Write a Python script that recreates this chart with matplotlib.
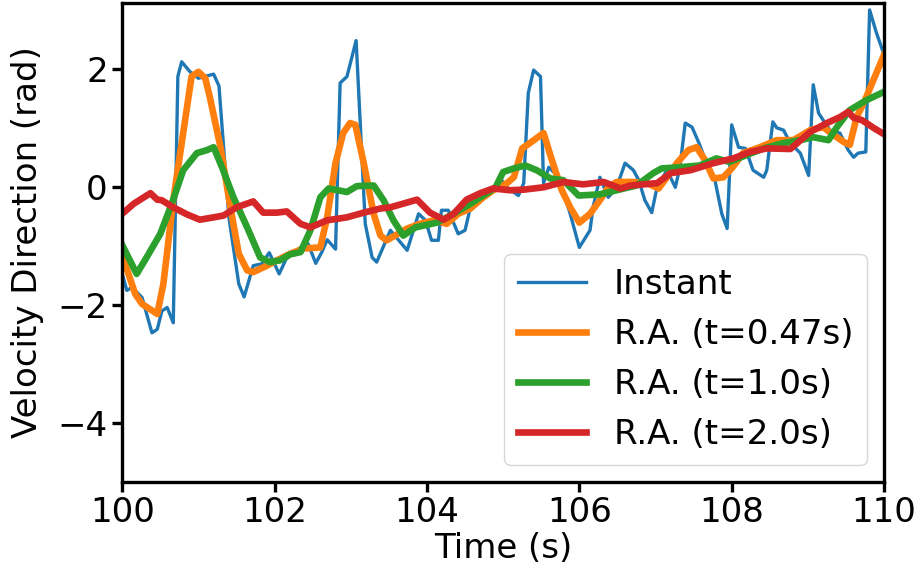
import matplotlib
matplotlib.use('Agg')
import matplotlib.pyplot as plt

# instantaneous velocity direction (rad)
t_inst = [100.0, 100.06, 100.13, 100.26, 100.39, 100.46, 100.52, 100.59, 100.67, 100.73,
          100.78, 100.89, 101.0, 101.11, 101.2, 101.27, 101.4, 101.53, 101.6, 101.72,
          101.83, 101.93, 102.06, 102.15, 102.34, 102.44, 102.54, 102.62, 102.69, 102.8,
          102.86, 102.95, 103.07, 103.19, 103.28, 103.34, 103.52, 103.74, 103.89, 103.98,
          104.06, 104.15, 104.19, 104.28, 104.41, 104.5, 104.57, 104.68, 104.81, 104.9,
          104.98, 105.05, 105.2, 105.27, 105.33, 105.4, 105.49, 105.53, 105.6, 105.73,
          105.88, 106.0, 106.14, 106.18, 106.27, 106.38, 106.49, 106.6, 106.71, 106.78,
          106.86, 106.95, 107.02, 107.15, 107.26, 107.32, 107.39, 107.48, 107.57, 107.67,
          107.78, 107.87, 107.94, 108.0, 108.09, 108.18, 108.28, 108.42, 108.46, 108.54,
          108.59, 108.68, 108.77, 108.9, 109.01, 109.07, 109.14, 109.18, 109.29, 109.42,
          109.53, 109.6, 109.66, 109.76, 109.81, 109.9, 110.0]
v_inst = [-1.47, -1.75, -1.70, -1.87, -2.47, -2.41, -2.10, -2.04, -2.30, 1.88,
          2.13, 1.96, 1.85, 1.89, 1.92, 1.72, -0.51, -1.64, -1.86, -1.33,
          -1.30, -1.11, -1.47, -1.22, -1.02, -0.96, -1.29, -1.10, -0.89, -1.05,
          1.77, 1.88, 2.49, -0.62, -1.19, -1.27, -0.73, -1.07, -0.45, -0.56,
          -0.90, -0.90, -0.39, -0.39, -0.79, -0.73, -0.34, -0.22, -0.02, -0.05,
          0.12, 0.0, -0.14, 0.07, 1.60, 1.99, 1.88, 0.07, 0.34, 0.17,
          -0.45, -1.02, -0.73, -0.34, 0.17, -0.17, 0.0, 0.41, 0.29, 0.12,
          -0.22, -0.43, 0.0, 0.29, 0.0, 0.34, 1.09, 1.02, 0.75, 0.41,
          0.12, -0.45, -0.70, 1.06, 0.68, 0.66, 0.29, 0.17, 0.29, 1.11,
          1.01, 0.97, 0.75, 0.58, 0.20, 1.74, 1.26, 1.18, 0.97, 0.92,
          0.63, 0.51, 0.58, 0.60, 3.01, 2.62, 2.25]

# running average, window 0.47 s
t_ra047 = [100.0, 100.17, 100.26, 100.46, 100.54, 100.67, 100.8, 100.91, 101.0, 101.09,
           101.15, 101.29, 101.42, 101.53, 101.64, 101.72, 101.9, 102.03, 102.2, 102.38,
           102.6, 102.69, 102.8, 102.9, 102.99, 103.06, 103.17, 103.3, 103.39, 103.47,
           103.58, 103.74, 103.91, 104.09, 104.26, 104.41, 104.57, 104.74, 104.87, 105.05,
           105.14, 105.25, 105.35, 105.53, 105.64, 105.77, 105.88, 106.0, 106.14, 106.27,
           106.38, 106.49, 106.71, 106.89, 107.04, 107.15, 107.28, 107.43, 107.54, 107.65,
           107.76, 107.89, 108.0, 108.15, 108.37, 108.59, 108.81, 109.03, 109.2, 109.38,
           109.47, 109.55, 109.64, 109.75, 109.86, 110.0]
v_ra047 = [-1.15, -1.81, -1.98, -2.15, -1.64, -0.22, 0.92, 1.88, 1.96, 1.85,
           1.53, 0.68, -0.34, -1.13, -1.41, -1.44, -1.33, -1.24, -1.13, -1.04,
           -1.02, -0.51, 0.41, 0.92, 1.09, 1.06, 0.41, -0.45, -0.82, -0.90,
           -0.82, -0.70, -0.62, -0.56, -0.62, -0.45, -0.36, -0.17, -0.05, 0.07,
           0.17, 0.66, 0.75, 0.92, 0.46, -0.05, -0.34, -0.60, -0.45, -0.22,
           0.0, 0.09, 0.09, 0.07, -0.02, 0.17, 0.41, 0.63, 0.68, 0.46,
           0.15, 0.17, 0.32, 0.58, 0.68, 0.80, 0.80, 0.97, 1.02, 0.85,
           0.77, 0.72, 1.19, 1.48, 1.82, 2.25]

# running average, window 1.0 s
t_ra10 = [100.0, 100.19, 100.32, 100.5, 100.65, 100.8, 100.98, 101.11, 101.2, 101.31,
          101.46, 101.64, 101.81, 101.94, 102.07, 102.2, 102.34, 102.47, 102.6, 102.71,
          102.95, 103.08, 103.3, 103.43, 103.56, 103.69, 103.85, 104.13, 104.35, 104.57,
          104.81, 104.9, 105.0, 105.14, 105.29, 105.44, 105.62, 105.79, 105.99, 106.27,
          106.49, 106.75, 106.97, 107.08, 107.32, 107.58, 107.8, 107.97, 108.2, 108.42,
          108.68, 108.9, 109.07, 109.27, 109.38, 109.55, 109.77, 110.0]
v_ra10 = [-0.98, -1.47, -1.19, -0.79, -0.28, 0.29, 0.58, 0.63, 0.68, 0.34,
          -0.17, -0.68, -1.19, -1.27, -1.24, -1.14, -1.10, -0.73, -0.17, -0.02,
          -0.08, 0.02, 0.03, -0.22, -0.56, -0.82, -0.68, -0.60, -0.45, -0.28,
          -0.08, 0.0, 0.26, 0.32, 0.37, 0.29, 0.15, 0.12, -0.14, -0.12,
          -0.05, 0.03, 0.24, 0.32, 0.34, 0.37, 0.49, 0.43, 0.55, 0.66,
          0.75, 0.80, 0.85, 0.80, 1.02, 1.31, 1.48, 1.62]

# running average, window 2.0 s
t_ra20 = [100.0, 100.15, 100.37, 100.46, 100.52, 100.67, 100.85, 101.02, 101.2, 101.33,
          101.5, 101.72, 101.85, 102.03, 102.16, 102.34, 102.47, 102.69, 102.95, 103.17,
          103.39, 103.52, 103.87, 104.04, 104.22, 104.35, 104.52, 104.7, 104.87, 105.09,
          105.27, 105.53, 105.79, 106.05, 106.32, 106.54, 106.67, 107.02, 107.2, 107.46,
          107.76, 108.02, 108.24, 108.46, 108.77, 109.03, 109.25, 109.42, 109.53, 109.6,
          109.71, 109.86, 110.0]
v_ra20 = [-0.45, -0.28, -0.10, -0.21, -0.22, -0.34, -0.46, -0.55, -0.51, -0.48,
          -0.34, -0.24, -0.43, -0.43, -0.41, -0.62, -0.68, -0.56, -0.51, -0.43,
          -0.36, -0.34, -0.21, -0.43, -0.55, -0.45, -0.21, -0.10, -0.02, -0.05,
          -0.04, 0.0, 0.09, 0.05, 0.09, -0.02, 0.03, 0.07, 0.24, 0.29,
          0.41, 0.49, 0.60, 0.66, 0.65, 0.94, 1.09, 1.19, 1.28, 1.18,
          1.14, 1.01, 0.90]

plt.rcParams['font.size'] = 24.5
plt.rcParams['axes.linewidth'] = 2.4
plt.rcParams['xtick.major.size'] = 7
plt.rcParams['ytick.major.size'] = 7
plt.rcParams['xtick.major.width'] = 2.4
plt.rcParams['ytick.major.width'] = 2.4

fig = plt.figure(figsize=(9.19, 5.73), dpi=100)
ax = fig.add_axes([0.133, 0.159, 0.829, 0.836])

ax.plot(t_inst, v_inst, color='#1f77b4', linewidth=2.4, label='Instant')
ax.plot(t_ra047, v_ra047, color='#ff7f0e', linewidth=4.8, label='R.A. (t=0.47s)')
ax.plot(t_ra10, v_ra10, color='#2ca02c', linewidth=4.8, label='R.A. (t=1.0s)')
ax.plot(t_ra20, v_ra20, color='#d62728', linewidth=4.8, label='R.A. (t=2.0s)')

ax.set_xlim(100, 110)
ax.set_ylim(-5, 3.13)
ax.set_xticks([100, 102, 104, 106, 108, 110])
ax.set_yticks([-4, -2, 0, 2])
ax.set_xlabel('Time (s)', labelpad=2)
ax.set_ylabel('Velocity Direction (rad)', labelpad=10)
ax.legend(loc='lower right', fontsize=24.6)

fig.savefig('out.png', dpi=100)
